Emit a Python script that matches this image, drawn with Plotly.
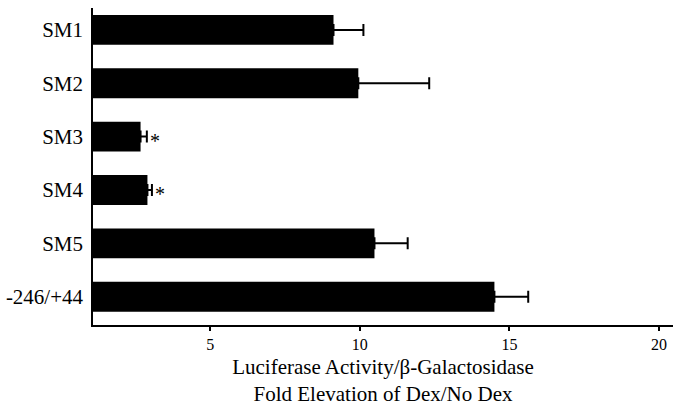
import plotly.graph_objects as go

categories = ["SM1", "SM2", "SM3", "SM4", "SM5", "-246/+44"]
fold_values = [9.12, 9.95, 2.67, 2.90, 10.49, 14.50]
error_plus = [1.00, 2.37, 0.21, 0.15, 1.11, 1.13]
significant = [False, False, True, True, False, False]
x_tick_values = [5, 10, 15, 20]
x_title = "Luciferase Activity/β-Galactosidase<br>Fold Elevation of Dex/No Dex"

FONT = "Liberation Serif, Times New Roman, serif"

fig = go.Figure()
fig.add_trace(go.Bar(
    x=fold_values,
    y=categories,
    orientation="h",
    marker=dict(color="black", line=dict(width=0)),
    width=0.56,
    error_x=dict(type="data", array=error_plus, arrayminus=[0] * len(error_plus),
                 symmetric=False, color="black", thickness=2, width=6),
    showlegend=False,
    hoverinfo="skip",
))

for cat, v, e, s in zip(categories, fold_values, error_plus, significant):
    if s:
        fig.add_annotation(x=v + e, y=cat, text="*", showarrow=False,
                           xanchor="left", xshift=1, yshift=-4,
                           font=dict(family=FONT, size=20, color="black"))

fig.update_layout(
    width=673, height=406,
    margin=dict(l=93, r=0, t=8, b=81, autoexpand=False),
    paper_bgcolor="white", plot_bgcolor="white",
    font=dict(family=FONT, color="black"),
)
fig.update_xaxes(
    range=[1.08, 20.47],
    tickvals=x_tick_values,
    ticks="outside", ticklen=4, tickwidth=2, tickcolor="black",
    showline=True, linecolor="black", linewidth=2,
    showgrid=False, zeroline=False,
    tickfont=dict(family=FONT, size=16, color="black"),
    title=dict(text=x_title, font=dict(family=FONT, size=21, color="black"), standoff=10),
)
fig.update_yaxes(
    type="category",
    range=[5.53, -0.41],
    showline=True, linecolor="black", linewidth=1.5,
    showgrid=False, zeroline=False, ticks="",
    ticklabelstandoff=4,
    tickfont=dict(family=FONT, size=21, color="black"),
)

fig.write_html(
    "out.html",
    config={"displayModeBar": False},
    post_script="document.body.style.margin='0';document.body.style.overflow='hidden';",
)
